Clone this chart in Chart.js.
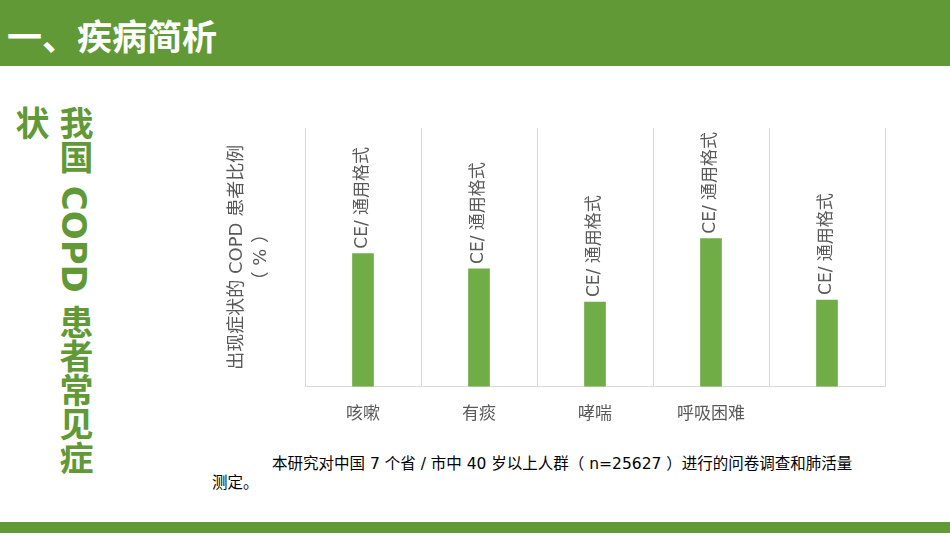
<!DOCTYPE html>
<html>
<head>
<meta charset="utf-8">
<script src="https://cdn.jsdelivr.net/npm/chart.js@4/dist/chart.umd.min.js"></script>
<style>
  body { margin: 0; width: 950px; height: 535px; background: #fff; position: relative; overflow: hidden;
         font-family: "DejaVu Sans", "Noto Sans CJK SC", sans-serif; }
  #header { position: absolute; left: 0; top: 0; width: 950px; height: 66px; background: #609936; }
  #header span { position: absolute; left: 7px; top: 9px; color: #fff; font: bold 35px "Noto Sans CJK SC", sans-serif; }
  #sideTitle { position: absolute; left: 8px; top: 106px; writing-mode: vertical-rl;
               color: #609936; font: bold 34px "DejaVu Sans", "Noto Sans CJK SC", sans-serif; line-height: 44px; }
  #note { position: absolute; left: 212px; top: 455px; font-size: 15.5px; line-height: 19px; color: #000; white-space: nowrap;
          font-family: "DejaVu Sans", "Noto Sans CJK SC", sans-serif; }
  #note .indent { padding-left: 60px; }
  #footer { position: absolute; left: 0; top: 522px; width: 950px; height: 11px; background: #609936; }
  #chartBox { position: absolute; left: 220px; top: 118px; width: 680px; height: 327px; }
</style>
</head>
<body>
<div id="header"><span>一、疾病简析</span></div>
<div id="sideTitle">我国 COPD 患者常见症<br>状</div>
<div id="chartBox"><canvas id="chart"></canvas></div>
<div id="note"><span class="indent">本研究对中国 7 个省 / 市中 40 岁以上人群（ n=25627 ）进行的问卷调查和肺活量</span><br>测定。</div>
<div id="footer"></div>
<script>
/* --------------- Data --------------------- */
const categories = ["咳嗽", "有痰", "哮喘", "呼吸困难", ""];
const values = [51.4, 45.5, 32.7, 57.2, 33.5];
const valueLabels = ["CE/ 通用格式", "CE/ 通用格式", "CE/ 通用格式", "CE/ 通用格式", "CE/ 通用格式"];
const yTitle = ["出现症状的 COPD 患者比例", "（ % ）"];

const fontFamily = '"DejaVu Sans", "Noto Sans CJK SC", sans-serif';

/* --------------- Rotated labels over bars --------------------- */
const barTextPlugin = {
  id: "barText",
  afterDatasetsDraw(chart) {
    const ctx = chart.ctx;
    const meta = chart.getDatasetMeta(0);
    ctx.save();
    ctx.font = "17px " + fontFamily;
    ctx.fillStyle = "#595959";
    ctx.textAlign = "left";
    ctx.textBaseline = "middle";
    meta.data.forEach((bar, i) => {
      ctx.save();
      ctx.translate(bar.x, bar.y - 5);
      ctx.rotate(-Math.PI / 2);
      ctx.fillText(valueLabels[i], 0, 0);
      ctx.restore();
    });
    ctx.restore();
  }
};

/* --------------- Chart --------------------- */
new Chart(document.getElementById("chart"), {
  type: "bar",
  plugins: [barTextPlugin],
  data: {
    labels: categories,
    datasets: [{
      data: values,
      backgroundColor: "#70ad47",
      barThickness: 21
    }]
  },
  options: {
    responsive: true,
    maintainAspectRatio: false,
    animation: false,
    layout: { padding: { top: 10, right: 15, bottom: 2, left: 0 } },
    plugins: { legend: { display: false }, tooltip: { enabled: false } },
    scales: {
      x: {
        grid: { color: "#d9d9d9", drawTicks: false },
        border: { color: "#d9d9d9" },
        ticks: { color: "#595959", font: { size: 17, family: fontFamily }, padding: 18 }
      },
      y: {
        min: 0,
        max: 100,
        grid: { display: false },
        border: { display: false },
        ticks: { display: false },
        title: {
          display: true,
          text: yTitle,
          color: "#595959",
          font: { size: 18, family: fontFamily, lineHeight: 1.35 },
          padding: { top: 5, bottom: 0 }
        },
        afterFit(scale) { scale.width = 85; }
      }
    }
  }
});
</script>
</body>
</html>
